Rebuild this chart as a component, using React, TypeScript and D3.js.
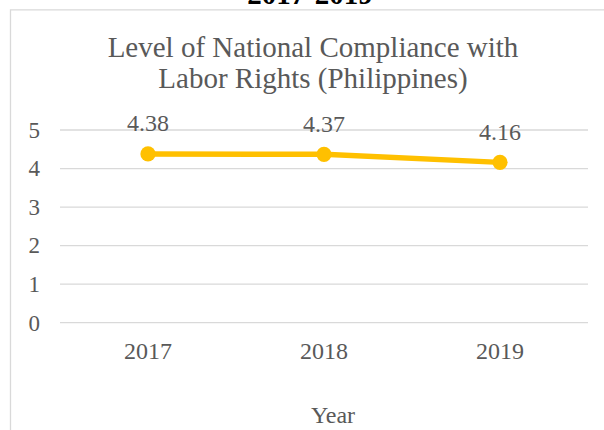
import React from "react";
import * as d3 from "d3";

const years = ["2017", "2018", "2019"];
const values = [4.38, 4.37, 4.16];
const valueLabels = ["4.38", "4.37", "4.16"];
const yTicks = [0, 1, 2, 3, 4, 5];
const titleLines = ["Level of National Compliance with", "Labor Rights (Philippines)"];
const axisTitle = "Year";
const topText = "2017-2019";

const W = 604;
const H = 430;
const FONT = "Liberation Serif, Tinos, Times New Roman, DejaVu Serif, serif";
const TXT = "#595959";
const GRID = "#d9d9d9";
const LINE = "#FFC000";

export default function App() {
  const x = d3.scaleBand<string>().domain(years).range([60, 588]);
  const y = d3.scaleLinear().domain([0, 5]).range([322.7, 130]);
  const cx = (d: string) => (x(d) as number) + x.bandwidth() / 2;
  const line = d3
    .line<number>()
    .x((_, i) => cx(years[i]))
    .y((v) => y(v));
  const ts = { fontFamily: FONT };

  return (
    <svg
      width={W}
      height={H}
      style={{ position: "absolute", left: 0, top: 0, background: "#fff" }}
    >
      <rect x={0} y={0} width={W} height={H} fill="#fff" />
      <text x={310} y={4} textAnchor="middle" fontWeight="bold" fontSize={29} fill="#000" style={ts}>
        {topText}
      </text>
      <path d={`M10.5,${H} L10.5,9.8 L${W},9.8`} fill="none" stroke={GRID} strokeWidth={1.3} />
      {titleLines.map((t, i) => (
        <text key={t} x={313} y={56.7 + i * 31.6} textAnchor="middle" fontSize={29} fill={TXT} style={ts}>
          {t}
        </text>
      ))}
      {yTicks.map((t) => (
        <g key={t}>
          <line x1={60} x2={588} y1={y(t)} y2={y(t)} stroke={GRID} strokeWidth={1.3} />
          <text x={40} y={y(t) + 7.8} textAnchor="end" fontSize={23} fill={TXT} style={ts}>
            {t}
          </text>
        </g>
      ))}
      {years.map((yr) => (
        <text key={yr} x={cx(yr)} y={359} textAnchor="middle" fontSize={24} fill={TXT} style={ts}>
          {yr}
        </text>
      ))}
      <text x={333} y={423} textAnchor="middle" fontSize={24} fill={TXT} style={ts}>
        {axisTitle}
      </text>
      <path d={line(values) || ""} fill="none" stroke={LINE} strokeWidth={5.5} strokeLinejoin="round" />
      {values.map((v, i) => (
        <circle key={i} cx={cx(years[i])} cy={y(v)} r={7.6} fill={LINE} />
      ))}
      {values.map((v, i) => (
        <text key={"l" + i} x={cx(years[i])} y={y(v) - 22.7} textAnchor="middle" fontSize={24} fill={TXT} style={ts}>
          {valueLabels[i]}
        </text>
      ))}
    </svg>
  );
}
